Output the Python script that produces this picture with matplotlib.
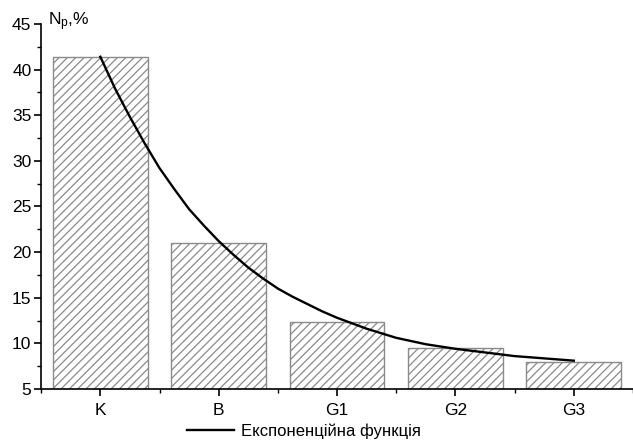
import numpy as np
import matplotlib
matplotlib.use("Agg")
from matplotlib import pyplot as plt
from matplotlib.ticker import MultipleLocator, FixedLocator

plt.rcParams['font.family'] = ['Liberation Sans', 'DejaVu Sans']
plt.rcParams['mathtext.fontset'] = 'custom'
plt.rcParams['mathtext.rm'] = 'Liberation Sans'
plt.rcParams['mathtext.it'] = 'Liberation Sans'
plt.rcParams['hatch.color'] = '#4a4a4a'
plt.rcParams['hatch.linewidth'] = 0.9

# bar data
categories = ['K', 'B', 'G1', 'G2', 'G3']
shares = [41.4, 21.0, 12.3, 9.5, 8.0]

# exponential curve
curve_x = [0.0, 0.125, 0.25, 0.375, 0.5, 0.625, 0.75, 0.875, 1.0, 1.125,
           1.25, 1.375, 1.5, 1.625, 1.75, 1.875, 2.0, 2.125, 2.25, 2.375,
           2.5, 2.75, 3.0, 3.25, 3.5, 3.75, 4.0]
curve_y = [41.4, 37.9, 34.8, 31.9, 29.2, 26.9, 24.7, 22.9, 21.2, 19.7,
           18.3, 17.1, 16.0, 15.1, 14.3, 13.5, 12.8, 12.2, 11.6, 11.1,
           10.6, 9.9, 9.4, 9.0, 8.6, 8.35, 8.1]

fig = plt.figure(figsize=(6.33, 4.43), dpi=100)
ax = fig.add_axes([0.065, 0.122, 0.935, 0.824])

xpos = np.arange(len(categories))
ax.bar(xpos, [s - 5 for s in shares], bottom=5, width=0.8, color='white',
       edgecolor='#8a8a8a', linewidth=1.0, hatch='////')
ax.plot(curve_x, curve_y, color='black', lw=1.7, label='Експоненційна функція',
        solid_joinstyle='round')

ax.set_xlim(-0.5, 4.5)
ax.set_ylim(5, 45)
ax.yaxis.set_major_locator(MultipleLocator(5))
ax.yaxis.set_minor_locator(MultipleLocator(2.5))
ax.set_xticks(xpos)
ax.set_xticklabels(categories)
ax.xaxis.set_minor_locator(FixedLocator(np.arange(-0.5, 5, 1.0)))

for s in ['top', 'right']:
    ax.spines[s].set_visible(False)
for s in ['left', 'bottom']:
    ax.spines[s].set_linewidth(1.2)

ax.tick_params(axis='both', which='major', direction='out', length=5, width=1.2, labelsize=12.5)
ax.tick_params(axis='both', which='minor', direction='out', length=3, width=1.0)
ax.tick_params(axis='x', pad=5)
ax.tick_params(axis='y', pad=2)

fig.text(0.076, 0.952, r'N$_{\rm p}$,%', fontsize=12.5, va='center', ha='left')

fig.legend(loc='lower center', bbox_to_anchor=(0.48, -0.025), frameon=False,
           fontsize=12, handlelength=2.8, handletextpad=0.4)

fig.savefig('out.png', dpi=100)
